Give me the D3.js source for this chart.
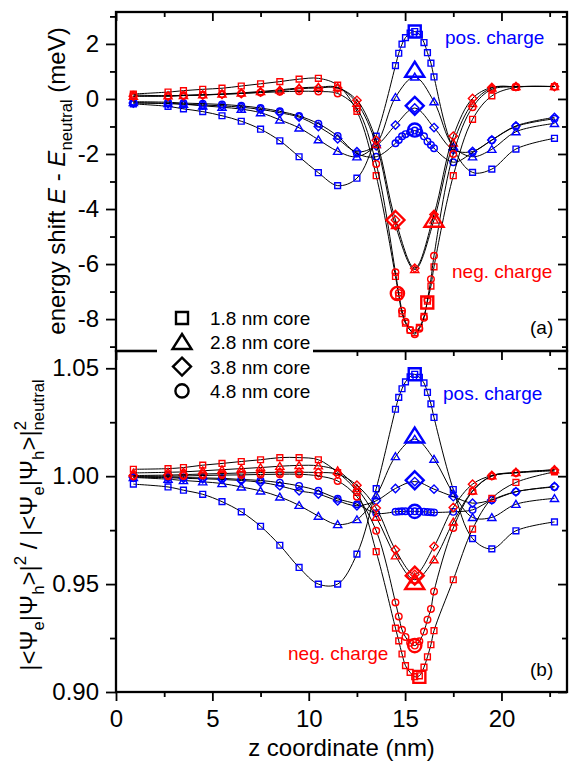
<!DOCTYPE html>
<html>
<head>
<meta charset="utf-8">
<script src="https://cdn.jsdelivr.net/npm/d3@7"></script>
<style>
  body { margin: 0; background: #fff; }
  svg { display: block; }
  text { font-family: "Liberation Sans", Arial, sans-serif; }
</style>
</head>
<body>
<svg width="571" height="762"></svg>
<script>
// z positions (nm). 1.8 and 4.8 nm cores have a finer grid around the charge
const zBase = [0.9, 2.7, 3.5, 4.5, 5.5, 6.5, 7.5, 8.5, 9.5, 10.5, 11.5, 12.5, 13.5,
    14.5, 15.5, 16.5, 17.5, 18.5, 19.5, 20.75, 22.75];
const zFine = [0.9, 2.7, 3.5, 4.5, 5.5, 6.5, 7.5, 8.5, 9.5, 10.5, 11.5, 12.5, 13.5,
    14.5, 14.67, 14.84, 15.02, 15.26, 15.5, 15.74, 15.98, 16.16, 16.34, 16.5,
    17.5, 18.5, 19.5, 20.75, 22.75];

// (a) energy shift (meV)
const shiftPos18 = [-0.18, -0.27, -0.36, -0.46, -0.61, -0.81, -1.10, -1.52, -2.10, -2.68, -3.15, -2.88, -1.35,
    1.21, 1.66, 1.99, 2.23, 2.39, 2.45, 2.35, 2.05, 1.68, 1.30, 0.80,
    -1.80, -2.67, -2.55, -1.82, -1.43];
const shiftPos28 = [-0.13, -0.16, -0.19, -0.25, -0.30, -0.37, -0.50, -0.76, -1.05, -1.48, -1.90, -2.10, -1.65,
    0.06, 0.80, -0.10, -1.73, -2.10, -1.83, -1.19, -0.89];
const shiftPos38 = [-0.15, -0.17, -0.19, -0.22, -0.25, -0.30, -0.38, -0.50, -0.66, -1.00, -1.45, -1.92, -1.70,
    -0.95, -0.33, -1.04, -1.85, -1.91, -1.49, -0.98, -0.67];
const shiftPos48 = [-0.10, -0.12, -0.15, -0.17, -0.20, -0.25, -0.33, -0.45, -0.62, -0.90, -1.35, -1.98, -2.10,
    -1.61, -1.49, -1.36, -1.28, -1.21, -1.15, -1.22, -1.36, -1.55, -1.67, -1.79,
    -2.30, -1.95, -1.50, -1.00, -0.72];
const shiftNeg18 = [0.18, 0.25, 0.30, 0.35, 0.39, 0.47, 0.55, 0.63, 0.72, 0.75, 0.50, -0.45, -2.79,
    -6.45, -7.15, -7.80, -8.15, -8.40, -8.50, -8.30, -7.90, -7.35, -6.80, -6.10,
    -2.79, -0.74, 0.11, 0.42, 0.45];
const shiftNeg28 = [0.10, 0.12, 0.13, 0.15, 0.18, 0.22, 0.27, 0.33, 0.40, 0.43, 0.42, -0.15, -1.65,
    -4.60, -6.20, -4.40, -1.60, -0.16, 0.40, 0.45, 0.45];
const shiftNeg38 = [0.10, 0.10, 0.12, 0.14, 0.17, 0.20, 0.25, 0.30, 0.37, 0.40, 0.40, -0.05, -1.50,
    -4.40, -6.15, -4.20, -1.35, 0.02, 0.42, 0.45, 0.45];
const shiftNeg48 = [0.15, 0.11, 0.13, 0.15, 0.17, 0.20, 0.23, 0.26, 0.28, 0.27, 0.20, -0.35, -2.36,
    -6.30, -7.05, -7.70, -8.10, -8.40, -8.55, -8.35, -7.95, -7.30, -6.55, -5.70,
    -2.00, -0.30, 0.35, 0.44, 0.45];

// (b) overlap ratio
const overlapPos18 = [0.9963, 0.9950, 0.9935, 0.9916, 0.9882, 0.9835, 0.9768, 0.9680, 0.9577, 0.9500, 0.9500, 0.9639, 0.9942,
    1.0310, 1.0365, 1.0405, 1.0437, 1.0460, 1.0472, 1.0458, 1.0432, 1.0388, 1.0335, 1.0272,
    0.9938, 0.9711, 0.9663, 0.9747, 0.9788];
const overlapPos28 = [0.9994, 0.9986, 0.9980, 0.9974, 0.9966, 0.9950, 0.9932, 0.9904, 0.9865, 0.9815, 0.9776, 0.9799, 0.9910,
    1.0091, 1.0172, 1.0079, 0.9920, 0.9809, 0.9809, 0.9870, 0.9897];
const overlapPos38 = [0.9995, 0.9993, 0.9990, 0.9988, 0.9985, 0.9980, 0.9972, 0.9955, 0.9932, 0.9917, 0.9886, 0.9863, 0.9886,
    0.9943, 0.9975, 0.9940, 0.9905, 0.9875, 0.9890, 0.9928, 0.9952];
const overlapPos48 = [0.9998, 0.9996, 0.9994, 0.9992, 0.9990, 0.9985, 0.9980, 0.9970, 0.9955, 0.9932, 0.9895, 0.9870, 0.9828,
    0.9835, 0.9836, 0.9837, 0.9837, 0.9837, 0.9837, 0.9836, 0.9835, 0.9834, 0.9833, 0.9832,
    0.9835, 0.9844, 0.9890, 0.9928, 0.9950];
const overlapNeg18 = [1.0032, 1.0035, 1.0040, 1.0051, 1.0059, 1.0068, 1.0076, 1.0086, 1.0086, 1.0076, 1.0017, 0.9925, 0.9650,
    0.9296, 0.9237, 0.9176, 0.9122, 0.9091, 0.9071, 0.9075, 0.9115, 0.9163, 0.9219, 0.9284,
    0.9520, 0.9755, 0.9897, 0.9971, 1.0020];
const overlapNeg28 = [1.0015, 1.0018, 1.0020, 1.0025, 1.0030, 1.0035, 1.0040, 1.0046, 1.0050, 1.0048, 1.0025, 0.9943, 0.9810,
    0.9631, 0.9520, 0.9613, 0.9788, 0.9932, 1.0002, 1.0017, 1.0030];
const overlapNeg38 = [1.0003, 1.0005, 1.0007, 1.0010, 1.0012, 1.0015, 1.0017, 1.0018, 1.0018, 1.0017, 1.0010, 0.9958, 0.9852,
    0.9659, 0.9545, 0.9674, 0.9855, 0.9963, 1.0003, 1.0017, 1.0029];
const overlapNeg48 = [1.0000, 1.0000, 1.0001, 1.0003, 1.0005, 1.0006, 1.0008, 1.0009, 1.0009, 1.0001, 0.9978, 0.9905, 0.9747,
    0.9415, 0.9350, 0.9288, 0.9255, 0.9228, 0.9215, 0.9235, 0.9280, 0.9335, 0.9385, 0.9466,
    0.9760, 0.9930, 1.0000, 1.0015, 1.0025];

// large highlight markers
const hiShapes = ['square', 'triangle', 'diamond', 'circle', 'diamond', 'triangle', 'circle', 'square'];
const hiCharge = ['pos', 'pos', 'pos', 'pos', 'neg', 'neg', 'neg', 'neg'];
const hiZA = [15.5, 15.5, 15.5, 15.5, 14.5, 16.5, 14.6, 16.15];
const hiShiftA = [2.45, 1.05, -0.25, -1.13, -4.4, -4.4, -7.07, -7.4];
const hiZB = [15.5, 15.5, 15.5, 15.5, 15.5, 15.5, 15.5, 15.74];
const hiOverlapB = [1.0472, 1.0187, 0.9981, 0.9837, 0.9539, 0.9508, 0.9215, 0.907];

const legendLabels = ['1.8 nm core', '2.8 nm core', '3.8 nm core', '4.8 nm core'];
const legendShapes = ['square', 'triangle', 'diamond', 'circle'];

const xTicks = [0, 5, 10, 15, 20];
const shiftTicks = [-8, -6, -4, -2, 0, 2];
const overlapTicks = [0.90, 0.95, 1.00, 1.05];

const BLUE = '#0000ff', RED = '#ff0000';
const chargeColor = {pos: BLUE, neg: RED};

const svg = d3.select('svg');
const L = 116, R = 567, TOP = 12, MID = 351, BOT = 692;

const x = d3.scaleLinear().domain([0, 23.4]).range([L, R]);
const ya = d3.scaleLinear().domain([-9.16, 3.16]).range([MID, TOP]);
const yb = d3.scaleLinear().domain([0.9, 1.058]).range([BOT, MID]);

// marker outlines, centred on 0,0
function shapePath(kind, big) {
    const p = d3.path();
    if (kind === 'square') {
        const h = big ? 6 : 2.9;
        p.rect(-h, -h, 2 * h, 2 * h);
    } else if (kind === 'circle') {
        const r = big ? 6.6 : 3.3;
        p.moveTo(r, 0); p.arc(0, 0, r, 0, 2 * Math.PI);
    } else if (kind === 'triangle') {
        const w = big ? 9.5 : 4.1, t = big ? 8.3 : 3.8, b = big ? 6.7 : 3.1;
        p.moveTo(0, -t); p.lineTo(w, b); p.lineTo(-w, b); p.closePath();
    } else {
        const h = big ? 9 : 4.2;
        p.moveTo(0, -h); p.lineTo(h, 0); p.lineTo(0, h); p.lineTo(-h, 0); p.closePath();
    }
    return p.toString();
}

const panels = [
    {y: ya, series: [
        {z: zFine, v: shiftPos18, shape: 'square', c: 'pos'},
        {z: zBase, v: shiftPos28, shape: 'triangle', c: 'pos'},
        {z: zBase, v: shiftPos38, shape: 'diamond', c: 'pos'},
        {z: zFine, v: shiftPos48, shape: 'circle', c: 'pos'},
        {z: zFine, v: shiftNeg18, shape: 'square', c: 'neg'},
        {z: zBase, v: shiftNeg28, shape: 'triangle', c: 'neg'},
        {z: zBase, v: shiftNeg38, shape: 'diamond', c: 'neg'},
        {z: zFine, v: shiftNeg48, shape: 'circle', c: 'neg'}],
     hz: hiZA, hv: hiShiftA},
    {y: yb, series: [
        {z: zFine, v: overlapPos18, shape: 'square', c: 'pos'},
        {z: zBase, v: overlapPos28, shape: 'triangle', c: 'pos'},
        {z: zBase, v: overlapPos38, shape: 'diamond', c: 'pos'},
        {z: zFine, v: overlapPos48, shape: 'circle', c: 'pos'},
        {z: zFine, v: overlapNeg18, shape: 'square', c: 'neg'},
        {z: zBase, v: overlapNeg28, shape: 'triangle', c: 'neg'},
        {z: zBase, v: overlapNeg38, shape: 'diamond', c: 'neg'},
        {z: zFine, v: overlapNeg48, shape: 'circle', c: 'neg'}],
     hz: hiZB, hv: hiOverlapB}
];

panels.forEach(pn => {
    const g = svg.append('g');
    const line = d3.line()
        .x(d => x(d[0])).y(d => pn.y(d[1]))
        .curve(d3.curveCatmullRom.alpha(0.5));
    pn.series.forEach(s => {
        const pts = s.z.map((z, i) => [z, s.v[i]]);
        g.append('path').attr('d', line(pts))
            .attr('fill', 'none').attr('stroke', '#000').attr('stroke-width', 1);
        g.selectAll(null).data(pts).enter().append('path')
            .attr('d', shapePath(s.shape, false))
            .attr('transform', d => `translate(${x(d[0])},${pn.y(d[1])})`)
            .attr('fill', 'none').attr('stroke', chargeColor[s.c]).attr('stroke-width', 1.4);
    });
    g.selectAll(null).data(hiShapes).enter().append('path')
        .attr('d', d => shapePath(d, true))
        .attr('transform', (d, i) => `translate(${x(pn.hz[i])},${pn.y(pn.hv[i])})`)
        .attr('fill', 'none').attr('stroke', (d, i) => chargeColor[hiCharge[i]])
        .attr('stroke-width', 2.4);
});

// axes
function styleAxis(sel) {
    sel.select('.domain').remove();
    sel.selectAll('line').attr('stroke', '#000').attr('stroke-width', 1.8);
    sel.attr('font-family', '"Liberation Sans", Arial, sans-serif').attr('font-size', 24);
    sel.selectAll('text').attr('fill', '#000');
}
function addAxis(axis, tx, ty) {
    svg.append('g').attr('transform', `translate(${tx},${ty})`).call(axis).call(styleAxis);
}
const xMinor = [2.5, 7.5, 12.5, 17.5, 22.5];
const fmtInt = d => String(d);

// panel (a)
addAxis(d3.axisLeft(ya).tickValues(shiftTicks).tickSize(10).tickPadding(7).tickFormat(fmtInt), L, 0);
addAxis(d3.axisLeft(ya).tickValues([-9, -7, -5, -3, -1, 1, 3]).tickSize(6).tickFormat(''), L, 0);
addAxis(d3.axisRight(ya).tickValues(shiftTicks).tickSize(-9).tickFormat(''), R, 0);
addAxis(d3.axisRight(ya).tickValues([-9, -7, -5, -3, -1, 1, 3]).tickSize(-5).tickFormat(''), R, 0);
addAxis(d3.axisTop(x).tickValues(xTicks).tickSize(-9).tickFormat(''), 0, TOP);
addAxis(d3.axisTop(x).tickValues(xMinor).tickSize(-5).tickFormat(''), 0, TOP);
addAxis(d3.axisBottom(x).tickValues(xTicks).tickSize(9).tickFormat(''), 0, MID);
addAxis(d3.axisBottom(x).tickValues(xMinor).tickSize(5).tickFormat(''), 0, MID);

// panel (b)
addAxis(d3.axisLeft(yb).tickValues(overlapTicks).tickSize(10).tickPadding(7).tickFormat(d3.format('.2f')), L, 0);
addAxis(d3.axisLeft(yb).tickValues([0.925, 0.975, 1.025]).tickSize(6).tickFormat(''), L, 0);
addAxis(d3.axisRight(yb).tickValues(overlapTicks).tickSize(-9).tickFormat(''), R, 0);
addAxis(d3.axisRight(yb).tickValues([0.925, 0.975, 1.025]).tickSize(-5).tickFormat(''), R, 0);
addAxis(d3.axisBottom(x).tickValues(xTicks).tickSize(9).tickPadding(9).tickFormat(fmtInt), 0, BOT);
addAxis(d3.axisBottom(x).tickValues(xMinor).tickSize(5).tickFormat(''), 0, BOT);

// frames
[[TOP, MID], [MID, BOT]].forEach(([t, b]) => {
    svg.append('rect').attr('x', L).attr('y', t).attr('width', R - L).attr('height', b - t)
        .attr('fill', 'none').attr('stroke', '#000').attr('stroke-width', 2.3);
});

// legend (white box over the panel border)
svg.append('rect').attr('x', 157).attr('y', 304).attr('width', 156).attr('height', 100).attr('fill', '#fff');
const lg = svg.append('g');
legendShapes.forEach((s, i) => {
    const cy = 318 + i * 24.3;
    lg.append('path').attr('d', shapePath(s, true))
        .attr('transform', `translate(182,${cy})`)
        .attr('fill', 'none').attr('stroke', '#000').attr('stroke-width', 2.4);
    lg.append('text').attr('x', 210).attr('y', cy + 7).attr('font-size', 19).text(legendLabels[i]);
});

// annotations
const notes = [
    ['pos. charge', 445, 43.5, BLUE], ['neg. charge', 452, 278, RED], ['(a)', 530, 334, '#000'],
    ['pos. charge', 443, 400, BLUE], ['neg. charge', 288, 660, RED], ['(b)', 530, 676, '#000']
];
notes.forEach(n => svg.append('text').attr('x', n[1]).attr('y', n[2])
    .attr('font-size', 19).attr('fill', n[3]).text(n[0]));

// axis titles
svg.append('text').attr('x', (L + R) / 2).attr('y', 756).attr('text-anchor', 'middle')
    .attr('font-size', 24).text('z coordinate (nm)');

function richText(sel, parts, size) {
    let shift = 0;
    parts.forEach(p => {
        const [txt, kind, extra] = p;
        let target = 0, fs = size;
        if (kind === 'sub') { target = 0.3 * size; fs = 0.7 * size; }
        if (kind === 'sup') { target = -0.45 * size; fs = 0.7 * size; }
        const t = sel.append('tspan').attr('dy', target - shift).attr('font-size', fs).text(txt);
        if (kind === 'it') t.attr('font-style', 'italic');
        if (extra) t.attr('dx', extra);
        shift = target;
    });
}

const ta = svg.append('text').attr('transform', 'translate(65,181) rotate(-90)')
    .attr('text-anchor', 'middle').attr('font-size', 24);
richText(ta, [['energy shift '], ['E', 'it'], [' - '], ['E', 'it'], ['neutral', 'sub'], [' (meV)']], 24);

const tb = svg.append('text').attr('transform', 'translate(37,525) rotate(-90)')
    .attr('text-anchor', 'middle').attr('font-size', 24);
richText(tb, [['|<Ψ'], ['e', 'sub'], ['|Ψ'], ['h', 'sub'], ['>|'], ['2', 'sup'], [' / |<Ψ'],
    ['e', 'sub'], ['|Ψ'], ['h', 'sub'], ['>|'], ['2', 'sup'], ['neutral', 'sub', -9.5]], 24);
</script>
</body>
</html>
